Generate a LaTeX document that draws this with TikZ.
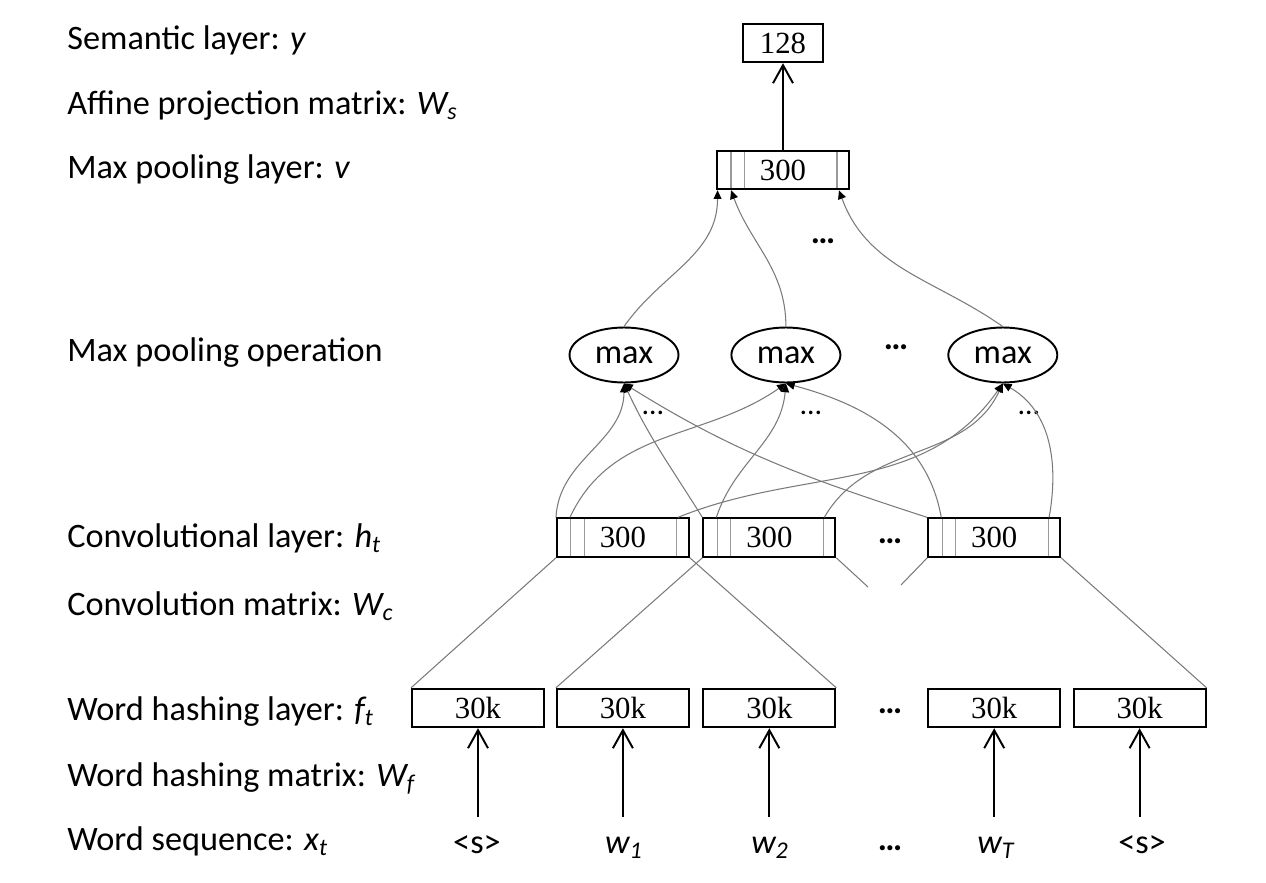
\documentclass[tikz,border=0pt]{standalone}
\usepackage{fontspec}
\setmainfont{Liberation Serif}
\newfontfamily\labelfont{Carlito}
\usepackage{tikz}
\usetikzlibrary{arrows.meta, positioning, shapes.geometric}
\definecolor{wire}{HTML}{7A7A7A}
\definecolor{divider}{HTML}{9A9A9A}

\begin{document}
\begin{tikzpicture}[
    x=0.02cm, y=-0.02cm,
    every node/.style={font=\fontsize{17.5}{20}\selectfont},
    layer/.style={anchor=base west, inner sep=0pt, font=\labelfont\fontsize{19.5}{23}\selectfont},
    unit/.style={rectangle, draw=black, line width=1.1pt, minimum width=2.64cm, minimum height=0.77cm, inner sep=0pt},
    outbox/.style={unit, minimum width=1.6cm},
    stripes/.style={path picture={
        \foreach \s/\a in {0.28cm/west, 0.55cm/west, -0.24cm/east}
            \draw[divider, line width=0.6pt] ([xshift=\s]path picture bounding box.south \a) -- ([xshift=\s]path picture bounding box.north \a);
    }},
    maxop/.style={ellipse, draw=black, line width=1.1pt, minimum width=2.18cm, minimum height=1.1cm, inner sep=0pt, font=\labelfont\fontsize{19.5}{23}\selectfont},
    word/.style={anchor=base, inner sep=0pt, text height=0.72cm, text depth=0.2cm, font=\labelfont\fontsize{19.5}{23}\selectfont},
    dots/.style={inner sep=0pt, font=\labelfont\bfseries\fontsize{19.5}{23}\selectfont},
    smalldots/.style={inner sep=0pt, font=\labelfont\fontsize{17}{20}\selectfont},
    feed/.style={-{Straight Barb[length=0.36cm, width=0.4cm]}, line width=1.1pt},
    pool/.style={draw=wire, line width=0.6pt, -{Triangle[length=5pt, width=4.5pt, color=black]}},
    window/.style={draw=wire, line width=0.6pt}
]
\useasboundingbox (0,0) rectangle (1266,882);

% layer names
\node[layer] (lsem) at (67,50) {Semantic layer: \textit{y}};
\node[layer] (laff) at (67,114) {Affine projection matrix: \textit{W\textsubscript{s}}};
\node[layer] (lmp) at (67,178) {Max pooling layer: \textit{v}};
\node[layer] (lmo) at (67,361) {Max pooling operation};
\node[layer] (lconv) at (67,547) {Convolutional layer: \textit{h\textsubscript{t}}};
\node[layer] (lwc) at (67,615) {Convolution matrix: \textit{W\textsubscript{c}}};
\node[layer] (lhash) at (67,720) {Word hashing layer: \textit{f\textsubscript{t}}};
\node[layer] (lwf) at (67,786) {Word hashing matrix: \textit{W\textsubscript{f}}};
\node[layer] (lseq) at (67,850) {Word sequence: \textit{x\textsubscript{t}}};

% word hashing row
\node[unit] (w1) at (478,708) {30k};
\node[unit, right=0.22cm of w1] (w2) {30k};
\node[unit, right=0.25cm of w2] (w3) {30k};
\node[unit, right=1.82cm of w3] (w4) {30k};
\node[unit, right=0.23cm of w4] (w5) {30k};
\node[dots] (wdots) at (890,711) {…};

% words
\node[word] (x1) at (477,853) {<s>};
\node[word] (x2) at (624,853) {\textit{w\textsubscript{1}}};
\node[word] (x3) at (770,853) {\textit{w\textsubscript{2}}};
\node[word] (x4) at (996,853) {\textit{w\textsubscript{T}}};
\node[word] (x5) at (1142,853) {<s>};
\node[dots] (xdots) at (890,848) {…};

% convolutional row
\node[unit, stripes, above=2.6cm of w2] (c1) {300};
\node[unit, stripes, above=2.6cm of w3] (c2) {300};
\node[unit, stripes, above=2.6cm of w4] (c3) {300};
\node[dots] (cdots) at (890,541) {…};

% max pooling
\node[maxop] (m1) at (624,355) {max};
\node[maxop, right=1.02cm of m1] (m2) {max};
\node[maxop, right=2.12cm of m2] (m3) {max};
\node[dots] (mdots) at (896,347) {…};
\node[smalldots] (d1) at (653,413) {…};
\node[smalldots] (d2) at (811,413) {…};
\node[smalldots] (d3) at (1029,413) {…};

% pooled and semantic
\node[unit, stripes] (pv) at (783,170) {300};
\node[outbox] (sem) at (783,43) {128};
\node[dots] (pdots) at (823,241) {…};

\coordinate (gapR) at (868,587);
\coordinate (gapL) at (901,585);

\foreach \i in {1,...,5}
    \draw[feed] (w\i.south |- x\i.north) -- (w\i.south);

\draw[window] (c1.south west) -- (w1.north west);
\draw[window] (c1.south east) -- (w3.north east);
\draw[window] (c2.south west) -- (w2.north west);
\draw[window] (c2.south east) -- (gapR);
\draw[window] (c3.south west) -- (gapL);
\draw[window] (c3.south east) -- (w5.north east);

\draw[pool] (c1.north west) to[out=87, in=-90] (m1.south);
\draw[pool] (c2.north west) to[out=122, in=-65] (m1.south);
\draw[pool] (c3.north west) to[out=162, in=-32] (m1.south);
\draw[pool] ([xshift=0.28cm]c1.north west) to[out=65, in=-145] (m2.south);
\draw[pool] ([xshift=0.28cm]c2.north west) to[out=72, in=-95] (m2.south);
\draw[pool] ([xshift=0.28cm]c3.north west) to[out=100, in=-15] (m2.south);
\draw[pool] ([xshift=-0.24cm]c1.north east) to[out=22, in=-125] (m3.south);
\draw[pool] ([xshift=-0.24cm]c2.north east) to[out=60, in=-115] (m3.south);
\draw[pool] ([xshift=-0.24cm]c3.north east) to[out=80, in=-30] (m3.south);

\draw[pool] (m1.north) to[out=55, in=-90] ([xshift=0.03cm]pv.south west);
\draw[pool] (m2.north) to[out=90, in=-70] ([xshift=0.3cm]pv.south west);
\draw[pool] (m3.north) to[out=145, in=-70] ([xshift=-0.22cm]pv.south east);

\draw[feed] (pv) -- (sem);
\end{tikzpicture}
\end{document}
